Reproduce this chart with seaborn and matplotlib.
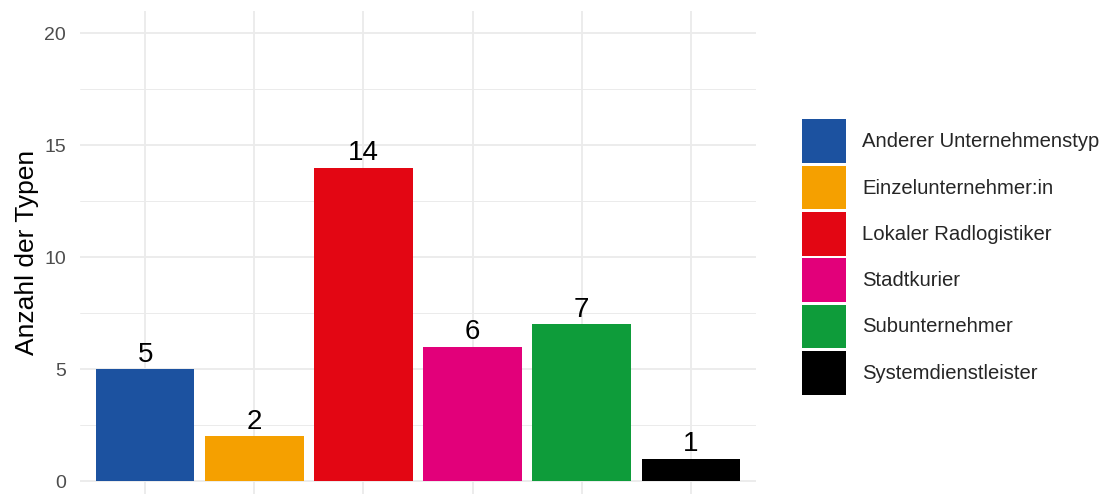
import matplotlib
matplotlib.use("Agg")
import matplotlib.pyplot as plt
import seaborn as sns
import pandas as pd
from matplotlib.ticker import MultipleLocator

categories = ["Anderer Unternehmenstyp", "Einzelunternehmer:in", "Lokaler Radlogistiker",
              "Stadtkurier", "Subunternehmer", "Systemdienstleister"]
values = [5, 2, 14, 6, 7, 1]
colors = ["#1C52A0", "#F5A000", "#E30613", "#E2007A", "#0E9C3A", "#000000"]
y_ticks = [0, 5, 10, 15, 20]
y_label = "Anzahl der Typen"

sns.set_theme(style="white")
plt.rcParams['font.family'] = ['Liberation Sans', 'DejaVu Sans']

df = pd.DataFrame({"Typ": categories, "Anzahl": values})

fig = plt.figure(figsize=(11.05, 4.95), dpi=100)
ax = fig.add_axes([80/1105, 1 - 494/495, (756-80)/1105, (494-11)/495])

sns.barplot(data=df, x="Typ", y="Anzahl", hue="Typ", palette=colors,
            order=categories, hue_order=categories, width=0.9,
            saturation=1, legend=True, ax=ax, linewidth=0)

ax.set_xlim(-0.6, len(categories) - 0.4)
ax.set_ylim(-0.58, 21)
ax.set_yticks(y_ticks)
ax.yaxis.set_minor_locator(MultipleLocator(2.5))
ax.set_axisbelow(True)
ax.grid(True, which="major", axis="both", color="#ebebeb", linewidth=1.3)
ax.grid(True, which="minor", axis="y", color="#ebebeb", linewidth=0.7)
for s in ax.spines.values():
    s.set_visible(False)
ax.tick_params(axis="y", which="both", length=0, labelsize=14, labelcolor="#4d4d4d", pad=10)
ax.tick_params(axis="x", length=0, labelbottom=False)
ax.set_xlabel("")
ax.set_ylabel(y_label, fontsize=19, color="black", labelpad=4)

for c in ax.containers:
    ax.bar_label(c, fontsize=20, color="black", padding=1)

handles, labels = ax.get_legend_handles_labels()
leg = ax.legend(handles, labels, loc="center left", bbox_to_anchor=(802/1105, 1 - 257/495),
                bbox_transform=fig.transFigure, frameon=False, fontsize=14.6,
                handlelength=2.15, handleheight=2.95, labelspacing=0.12,
                handletextpad=0.82, borderpad=0, borderaxespad=0)

fig.savefig("out.png", dpi=100)
